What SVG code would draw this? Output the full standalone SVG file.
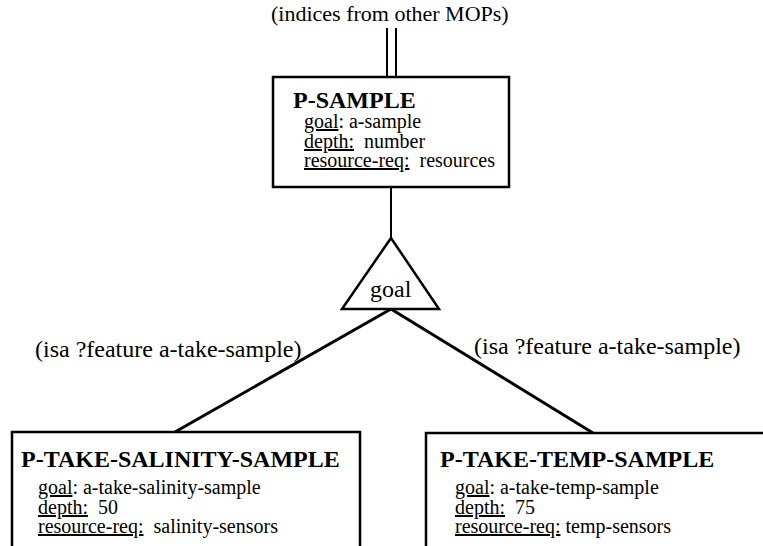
<svg xmlns="http://www.w3.org/2000/svg" width="763" height="546" viewBox="0 0 763 546" font-family="Liberation Serif, serif">
<rect width="763" height="546" fill="#fff"/>
<g id="connectors" stroke="#000" fill="none">
<line stroke-width="2" x1="387" y1="28" x2="387" y2="77"/>
<line stroke-width="2" x1="396" y1="28" x2="396" y2="77"/>
<line stroke-width="2" x1="391" y1="187" x2="391" y2="238"/>
<line stroke-width="3" x1="391" y1="309" x2="175" y2="432"/>
<line stroke-width="3" x1="391" y1="309" x2="593" y2="433"/>
</g>
<g id="edge-labels" font-family="Liberation Serif" font-size="24" fill="#000">
<text x="35" y="357">(isa ?feature a-take-sample)</text>
<text x="474" y="354">(isa ?feature a-take-sample)</text>
</g>
<g id="index-label" font-family="Liberation Serif" font-size="22" fill="#000">
<text x="271" y="21">(indices from other MOPs)</text>
</g>
<g id="p-sample" font-family="Liberation Serif" fill="#000">
<rect x="273" y="77" width="236" height="110" fill="#fff" stroke="#000" stroke-width="2.5"/>
<text x="293" y="108" font-size="24" font-weight="bold">P-SAMPLE</text>
<g font-size="20">
<text x="304" y="128"><tspan text-decoration="underline">goal</tspan>: a-sample</text>
<text x="304" y="148" xml:space="preserve"><tspan text-decoration="underline">depth:</tspan>  number</text>
<text x="304" y="167" xml:space="preserve"><tspan text-decoration="underline">resource-req:</tspan>  resources</text>
</g>
</g>
<g id="goal-index" font-family="Liberation Serif" fill="#000">
<polygon points="391,238 342,309 439,309" fill="#fff" stroke="#000" stroke-width="2.5"/>
<text x="370" y="297" font-size="24">goal</text>
</g>
<g id="p-take-salinity-sample" font-family="Liberation Serif" fill="#000">
<rect x="12" y="432" width="348" height="140" fill="#fff" stroke="#000" stroke-width="2.5"/>
<text x="21" y="467" font-size="24" font-weight="bold">P-TAKE-SALINITY-SAMPLE</text>
<g font-size="20">
<text x="38" y="494"><tspan text-decoration="underline">goal</tspan>: a-take-salinity-sample</text>
<text x="38" y="514" xml:space="preserve"><tspan text-decoration="underline">depth:</tspan>  50</text>
<text x="38" y="533" xml:space="preserve"><tspan text-decoration="underline">resource-req:</tspan>  salinity-sensors</text>
</g>
</g>
<g id="p-take-temp-sample" font-family="Liberation Serif" fill="#000">
<rect x="426" y="433" width="400" height="140" fill="#fff" stroke="#000" stroke-width="2.5"/>
<text x="440" y="467" font-size="24" font-weight="bold">P-TAKE-TEMP-SAMPLE</text>
<g font-size="20">
<text x="455" y="494"><tspan text-decoration="underline">goal</tspan>: a-take-temp-sample</text>
<text x="455" y="514" xml:space="preserve"><tspan text-decoration="underline">depth:</tspan>  75</text>
<text x="455" y="533"><tspan text-decoration="underline">resource-req:</tspan> temp-sensors</text>
</g>
</g>
</svg>
